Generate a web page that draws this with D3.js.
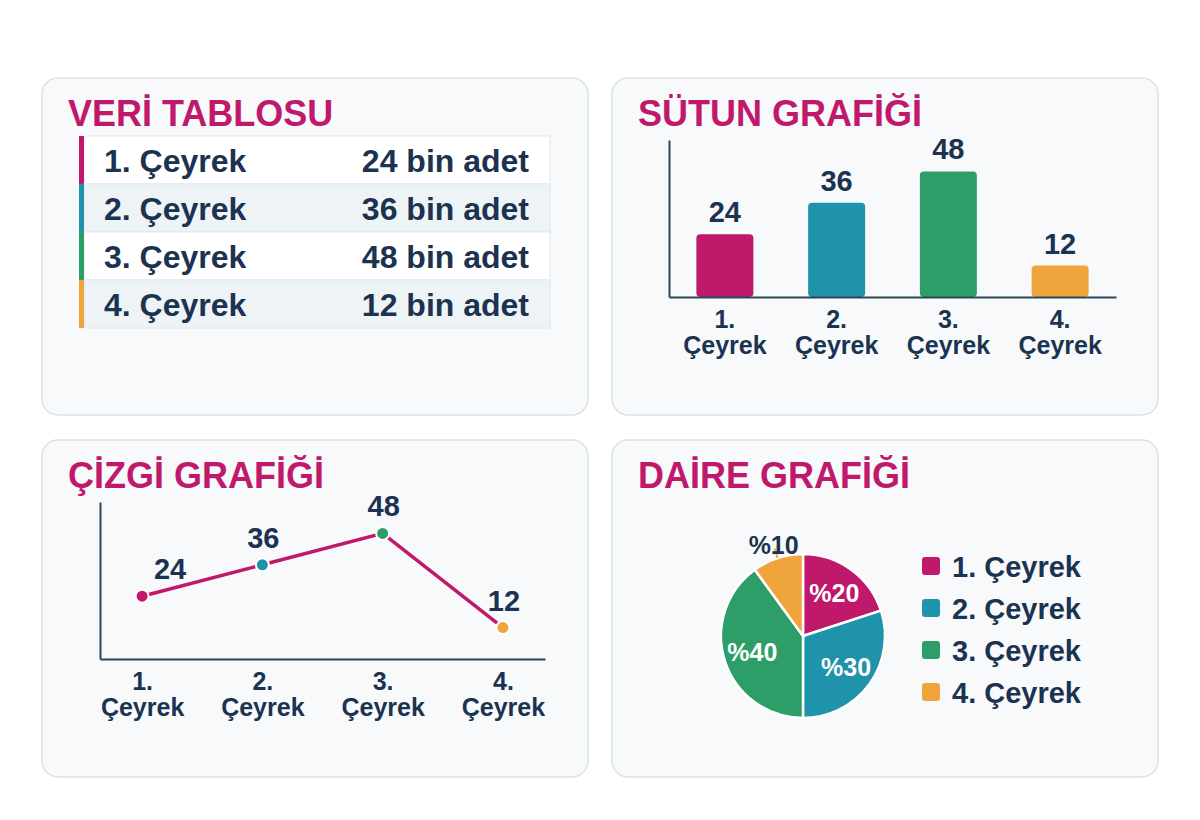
<!DOCTYPE html>
<html>
  <head>
    <meta charset="utf-8">
    <title>Çeyrek Satışları</title>
    <script src="https://d3js.org/d3.v7.min.js"></script>
    <style>
      body { margin: 0; background: #ffffff; }
      text { font-family: "Liberation Sans", Arial, sans-serif; font-weight: bold; }
    </style>
  </head>
  <body>
    <div id="chart"></div>
    <script>
      // veriler
      var categories = ["1. Çeyrek", "2. Çeyrek", "3. Çeyrek", "4. Çeyrek"];
      var values = [24, 36, 48, 12];
      var shares = [20, 30, 40, 10];
      var unitText = "bin adet";
      var panelTitles = ["VERİ TABLOSU", "SÜTUN GRAFİĞİ", "ÇİZGİ GRAFİĞİ", "DAİRE GRAFİĞİ"];
      var colors = ["#c0186b", "#1f93aa", "#2e9e69", "#f0a43c"];

      var navy = "#1b3350";
      var magenta = "#c0186b";
      var axisColor = "#2c4658";

      var width = 1200, height = 820;

      var svg = d3.select("#chart")
        .append("svg")
        .attr("width", width)
        .attr("height", height);

      // panel kutulari
      var panels = [
        { x: 42, y: 78 }, { x: 612, y: 78 },
        { x: 42, y: 440 }, { x: 612, y: 440 }
      ];

      svg.selectAll(".panel")
        .data(panels)
        .enter()
        .append("rect")
        .attr("class", "panel")
        .attr("x", function(d) { return d.x; })
        .attr("y", function(d) { return d.y; })
        .attr("width", 546)
        .attr("height", 337)
        .attr("rx", 16)
        .style("fill", "#f7f9fb")
        .style("stroke", "#d8e3e8")
        .style("stroke-width", 1.5);

      svg.selectAll(".panelTitle")
        .data(panels)
        .enter()
        .append("text")
        .attr("class", "panelTitle")
        .attr("x", function(d) { return d.x + 26; })
        .attr("y", function(d) { return d.y + 48; })
        .style("font-size", "36px")
        .style("fill", magenta)
        .text(function(d, i) { return panelTitles[i]; });

      // 1) veri tablosu
      var rowY = d3.scaleBand().domain(categories).range([136, 328]);
      var rows = svg.append("g").selectAll(".row")
        .data(categories)
        .enter()
        .append("g")
        .attr("class", "row");

      rows.append("rect")
        .attr("x", 84)
        .attr("y", function(d) { return rowY(d); })
        .attr("width", 466)
        .attr("height", rowY.bandwidth())
        .style("fill", function(d, i) { return i % 2 ? "#eef3f6" : "#ffffff"; })
        .style("stroke", "#dfe8ec")
        .style("stroke-width", 1);

      rows.append("rect")
        .attr("x", 79)
        .attr("y", function(d) { return rowY(d); })
        .attr("width", 5)
        .attr("height", rowY.bandwidth())
        .style("fill", function(d, i) { return colors[i]; });

      rows.append("text")
        .attr("x", 104)
        .attr("y", function(d) { return rowY(d) + rowY.bandwidth() / 2 + 12; })
        .style("font-size", "32px")
        .style("fill", navy)
        .text(function(d) { return d; });

      rows.append("text")
        .attr("x", 529)
        .attr("y", function(d) { return rowY(d) + rowY.bandwidth() / 2 + 12; })
        .attr("text-anchor", "end")
        .style("font-size", "32px")
        .style("fill", navy)
        .text(function(d, i) { return values[i] + " " + unitText; });

      // eksen etiketi iki satir
      function twoLineLabel(sel, top) {
        sel.each(function(d) {
          var parts = d.split(" ");
          var t = d3.select(this);
          t.append("tspan").attr("x", 0).attr("y", top).text(parts[0]);
          t.append("tspan").attr("x", 0).attr("y", top + 26).text(parts[1]);
        });
      }

      // 2) sutun grafigi
      var barX = d3.scaleBand().domain(categories).range([669, 1116]).paddingInner(0.49).paddingOuter(0.245);
      var barY = d3.scaleLinear().domain([0, 60]).range([297, 140]);

      var barG = svg.append("g");

      barG.selectAll(".bar")
        .data(values)
        .enter()
        .append("rect")
        .attr("class", "bar")
        .attr("x", function(d, i) { return barX(categories[i]); })
        .attr("y", function(d) { return barY(d); })
        .attr("width", barX.bandwidth())
        .attr("height", function(d) { return barY(0) - barY(d); })
        .attr("rx", 4)
        .style("fill", function(d, i) { return colors[i]; });

      barG.selectAll(".barLabel")
        .data(values)
        .enter()
        .append("text")
        .attr("class", "barLabel")
        .attr("x", function(d, i) { return barX(categories[i]) + barX.bandwidth() / 2; })
        .attr("y", function(d) { return barY(d) - 12; })
        .attr("text-anchor", "middle")
        .style("font-size", "29px")
        .style("fill", navy)
        .text(function(d) { return d; });

      var barXAxis = barG.append("g")
        .attr("transform", "translate(0," + barY(0) + ")")
        .call(d3.axisBottom(barX).tickSize(0).tickSizeOuter(0));
      barXAxis.select(".domain").style("stroke", axisColor).style("stroke-width", 2);
      barXAxis.selectAll(".tick text").remove();
      barXAxis.selectAll(".tick").append("text")
        .attr("text-anchor", "middle")
        .style("font-size", "25px")
        .style("fill", navy)
        .call(twoLineLabel, 31);

      var barYAxis = barG.append("g")
        .attr("transform", "translate(669,0)")
        .call(d3.axisLeft(barY).ticks(0).tickSizeOuter(0));
      barYAxis.select(".domain").style("stroke", axisColor).style("stroke-width", 2);

      // 3) cizgi grafigi
      var lineX = d3.scalePoint().domain(categories).range([100, 545]).padding(0.35);
      var lineY = d3.scaleLinear().domain([0, 60]).range([659, 502]);

      var lineG = svg.append("g");

      var lineXAxis = lineG.append("g")
        .attr("transform", "translate(0," + lineY(0) + ")")
        .call(d3.axisBottom(lineX).tickSize(0).tickSizeOuter(0));
      lineXAxis.select(".domain").style("stroke", axisColor).style("stroke-width", 2);
      lineXAxis.selectAll(".tick text").remove();
      lineXAxis.selectAll(".tick").append("text")
        .attr("text-anchor", "middle")
        .style("font-size", "25px")
        .style("fill", navy)
        .call(twoLineLabel, 31);

      var lineYAxis = lineG.append("g")
        .attr("transform", "translate(100,0)")
        .call(d3.axisLeft(lineY).ticks(0).tickSizeOuter(0));
      lineYAxis.select(".domain").style("stroke", axisColor).style("stroke-width", 2);

      var line = d3.line()
        .x(function(d, i) { return lineX(categories[i]); })
        .y(function(d) { return lineY(d); });

      lineG.append("path")
        .attr("d", line(values))
        .style("fill", "none")
        .style("stroke", magenta)
        .style("stroke-width", 3.5);

      lineG.selectAll(".dot")
        .data(values)
        .enter()
        .append("circle")
        .attr("class", "dot")
        .attr("cx", function(d, i) { return lineX(categories[i]); })
        .attr("cy", function(d) { return lineY(d); })
        .attr("r", 6.5)
        .style("fill", function(d, i) { return colors[i]; })
        .style("stroke", "#ffffff")
        .style("stroke-width", 2);

      lineG.selectAll(".dotLabel")
        .data(values)
        .enter()
        .append("text")
        .attr("class", "dotLabel")
        .attr("x", function(d, i) { return lineX(categories[i]) + (i === 0 ? 28 : 1); })
        .attr("y", function(d) { return lineY(d) - 17; })
        .attr("text-anchor", "middle")
        .style("font-size", "29px")
        .style("fill", navy)
        .text(function(d) { return d; });

      // 4) daire grafigi
      var radius = 82;
      var pieG = svg.append("g")
        .attr("transform", "translate(803,636)");

      var pie = d3.pie().sort(null).value(function(d) { return d; });
      var arcs = pie(shares);
      var arc = d3.arc().innerRadius(0).outerRadius(radius);
      var labelArc = d3.arc().innerRadius(radius * 0.65).outerRadius(radius * 0.65);

      pieG.selectAll(".slice")
        .data(arcs)
        .enter()
        .append("path")
        .attr("class", "slice")
        .attr("d", arc)
        .style("fill", function(d, i) { return colors[i]; })
        .style("stroke", "#ffffff")
        .style("stroke-width", 2.5);

      arcs.forEach(function(a, i) {
        var mid = (a.startAngle + a.endAngle) / 2;
        if (a.data < 15) {
          // kucuk dilim: disarida etiket
          pieG.append("line")
            .attr("x1", Math.sin(mid) * radius)
            .attr("y1", -Math.cos(mid) * radius)
            .attr("x2", Math.sin(mid) * (radius + 10))
            .attr("y2", -Math.cos(mid) * (radius + 10))
            .style("stroke", colors[i])
            .style("stroke-width", 2);
          pieG.append("text")
            .attr("x", Math.sin(mid) * (radius + 13))
            .attr("y", -Math.cos(mid) * (radius + 13))
            .attr("dy", "0.35em")
            .attr("text-anchor", "middle")
            .style("font-size", "25px")
            .style("fill", navy)
            .text("%" + a.data);
        } else {
          var c = labelArc.centroid(a);
          pieG.append("text")
            .attr("x", c[0])
            .attr("y", c[1])
            .attr("dy", "0.35em")
            .attr("text-anchor", "middle")
            .style("font-size", "25px")
            .style("fill", "#ffffff")
            .text("%" + a.data);
        }
      });

      var legend = svg.append("g").selectAll(".legendItem")
        .data(categories)
        .enter()
        .append("g")
        .attr("class", "legendItem")
        .attr("transform", function(d, i) { return "translate(922," + (557 + i * 42) + ")"; });

      legend.append("rect")
        .attr("width", 18)
        .attr("height", 18)
        .attr("rx", 3)
        .style("fill", function(d, i) { return colors[i]; });

      legend.append("text")
        .attr("x", 30)
        .attr("y", 20)
        .style("font-size", "29px")
        .style("fill", navy)
        .text(function(d) { return d; });
    </script>
  </body>
</html>
